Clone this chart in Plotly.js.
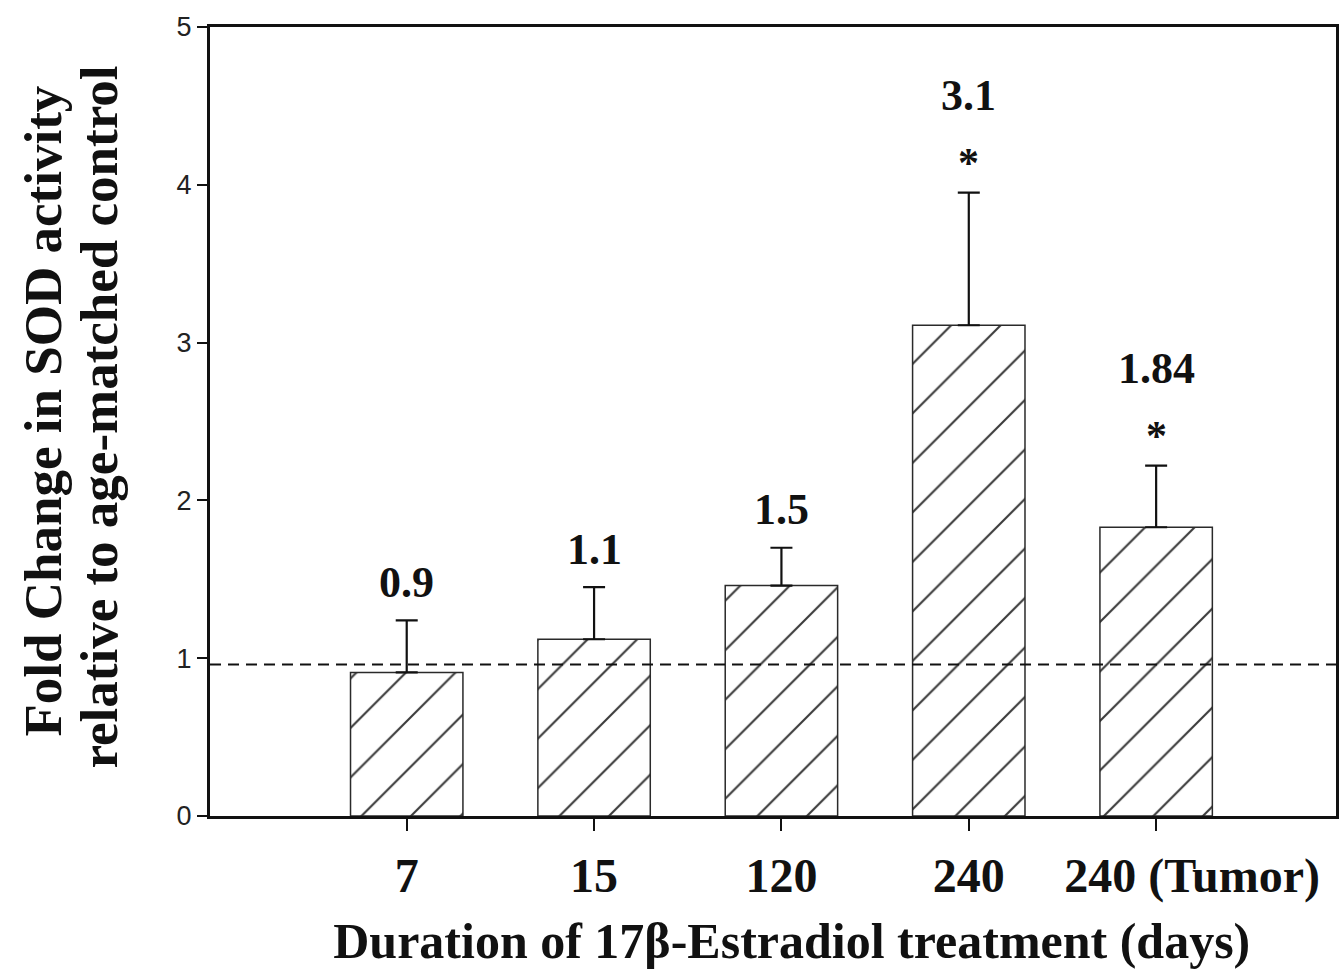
<!DOCTYPE html>
<html>
<head>
<meta charset="utf-8">
<script src="https://cdn.plot.ly/plotly-3.0.1.min.js"></script>
<style>html,body{margin:0;padding:0;background:#fff;}#chart{width:1339px;height:971px;}</style>
</head>
<body>
<div id="chart"></div>
<script>
// Data
const categories = ['7', '15', '120', '240', '240 (Tumor)'];
const foldChange = [0.91, 1.12, 1.46, 3.11, 1.83];
const errorPlus = [0.33, 0.33, 0.24, 0.84, 0.39];
const valueLabels = ['0.9', '1.1', '1.5', '3.1', '1.84'];
const significant = [false, false, false, true, true];
const controlLevel = 0.96;
const yTicks = [0, 1, 2, 3, 4, 5];
const yTitleLines = ['Fold Change in SOD activity', 'relative to age-matched control'];
const xTitle = 'Duration of 17β-Estradiol treatment (days)';

const serif = 'Liberation Serif, Times New Roman, serif';

const bars = {
  type: 'bar',
  x: categories,
  y: foldChange,
  width: 0.6,
  marker: {
    color: '#ffffff',
    line: {color: '#2a2a2a', width: 1.5},
    pattern: {shape: '/', size: 35, solidity: 0.06, fgcolor: '#3a3a3a', bgcolor: '#ffffff'}
  },
  error_y: {
    type: 'data', symmetric: false,
    array: errorPlus,
    arrayminus: errorPlus.map(() => 0),
    color: '#111', thickness: 2.2, width: 11
  },
  hoverinfo: 'x+y',
  showlegend: false
};

const annotations = [];
categories.forEach((c, i) => {
  const top = foldChange[i] + errorPlus[i];
  if (significant[i]) {
    annotations.push({x: i, y: top, xref: 'x', yref: 'y', text: '<b>*</b>', showarrow: false,
      yanchor: 'middle', yshift: 30, font: {family: serif, size: 42, color: '#111'}});
    annotations.push({x: i, y: top, xref: 'x', yref: 'y', text: '<b>' + valueLabels[i] + '</b>', showarrow: false,
      yanchor: 'middle', yshift: 97, font: {family: serif, size: 44, color: '#111'}});
  } else {
    annotations.push({x: i, y: top, xref: 'x', yref: 'y', text: '<b>' + valueLabels[i] + '</b>', showarrow: false,
      yanchor: 'middle', yshift: 38, font: {family: serif, size: 44, color: '#111'}});
  }
});

// Two-line y-axis title, drawn as rotated text with tight line spacing
yTitleLines.forEach((t, k) => {
  annotations.push({xref: 'paper', yref: 'paper', x: 0, y: 0.5, text: '<b>' + t + '</b>',
    textangle: -90, showarrow: false, xanchor: 'center', yanchor: 'middle',
    xshift: k === 0 ? -168 : -112, yshift: k === 0 ? 10 : 4,
    font: {family: serif, size: 53, color: '#111'}});
});

// tick labels: the last label sits a little right of its tick in the original
const tickText = categories.map((c, i) => (i === categories.length - 1 ? '\u2003\u2002' : '') + '<b>' + c + '</b>');

const layout = {
  width: 1339, height: 971,
  margin: {l: 210, r: 3, t: 27, b: 155},
  paper_bgcolor: '#ffffff', plot_bgcolor: '#ffffff',
  showlegend: false,
  xaxis: {
    type: 'category',
    range: [-1.05, 4.96],
    tickvals: categories,
    ticktext: tickText,
    tickangle: 0,
    showgrid: false, zeroline: false,
    showline: true, linecolor: '#111', linewidth: 3, mirror: true,
    ticks: 'outside', ticklen: 12, tickwidth: 2, tickcolor: '#111',
    ticklabelstandoff: 3,
    tickfont: {family: serif, size: 48, color: '#111'},
    title: {text: '&nbsp;&nbsp;&nbsp;<b>' + xTitle + '</b>', standoff: 22,
      font: {family: serif, size: 50, color: '#111'}}
  },
  yaxis: {
    range: [0, 5],
    tickvals: yTicks,
    ticktext: yTicks.map(String),
    showgrid: false, zeroline: false,
    showline: true, linecolor: '#111', linewidth: 3, mirror: true,
    ticks: 'outside', ticklen: 10, tickwidth: 2, tickcolor: '#111',
    tickfont: {family: 'Liberation Sans, Arial, sans-serif', size: 27, color: '#222'}
  },
  shapes: [{
    type: 'line', xref: 'paper', x0: 0, x1: 1, yref: 'y', y0: controlLevel, y1: controlLevel,
    line: {color: '#111', width: 2, dash: '11px,7px'}
  }],
  annotations: annotations
};

Plotly.newPlot('chart', [bars], layout, {staticPlot: true, displayModeBar: false});
</script>
</body>
</html>
